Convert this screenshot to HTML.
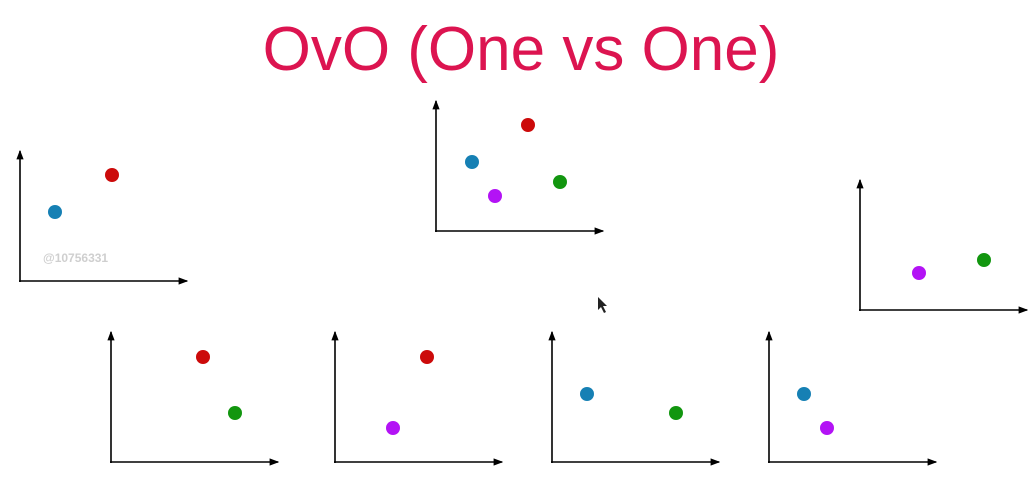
<!DOCTYPE html>
<html><head><meta charset="utf-8"><style>
html,body{margin:0;padding:0;background:#fff;width:1032px;height:490px;overflow:hidden;}
#title{position:absolute;left:5px;width:1032px;top:14px;text-align:center;font-family:"Liberation Sans",sans-serif;font-size:62px;color:#dc1450;line-height:72px;}
svg{position:absolute;left:0;top:0;}
</style></head><body>
<div id="title">OvO (One vs One)</div>
<svg id="chart" width="1032" height="490">
<defs><marker id="arr" viewBox="0 0 8 8" refX="7" refY="4" markerWidth="6" markerHeight="6" orient="auto"><path d="M0,1 L8,4 L0,7 z" fill="#000"/></marker></defs>
<text x="43" y="262" font-family="Liberation Sans, sans-serif" font-size="12" font-weight="bold" fill="#cfcfcf">@10756331</text>
<path d="M598,297 L598,310 L601,307 L604,313 L606,312 L603,306 L607,306 z" fill="#222"/>
</svg>
<script>
// class colors
const categories = ["blue","red","green","purple"];
const colors = {blue:"#1680b4",red:"#cc0a0a",green:"#12960f",purple:"#b313f5"};
// panel origins (axes corner) and axis lengths
const panelOrigins = [[20,281],[436,231],[860,310],[111,462],[335,462],[552,462],[769,462]];
const panelClasses = [["blue","red"],["blue","red","purple","green"],["purple","green"],["red","green"],["red","purple"],["blue","green"],["blue","purple"]];
// point values: offsets from origin (x right, y up)
const panelXValues = [[35,92],[36,92,59,124],[59,124],[92,124],[92,58],[35,124],[35,58]];
const panelYValues = [[69,106],[69,106,35,49],[37,50],[105,49],[105,34],[68,49],[68,34]];
const axisW=167, axisH=130;
const svg=document.getElementById('chart');
const NS="http://www.w3.org/2000/svg";
function xPos(p,v){return panelOrigins[p][0]+v;}
function yPos(p,v){return panelOrigins[p][1]-v;}
panelOrigins.forEach((o,p)=>{
  const g=document.createElementNS(NS,'g');
  
  
  const ya=document.createElementNS(NS,'line');
  ya.setAttribute('x1',o[0]);ya.setAttribute('y1',o[1]+1);ya.setAttribute('x2',o[0]);ya.setAttribute('y2',o[1]-axisH);
  ya.setAttribute('stroke','#000');ya.setAttribute('stroke-width','1.6');ya.setAttribute('marker-end','url(#arr)');
  
  
  g.appendChild(ya);
  const xa=document.createElementNS(NS,'line');
  xa.setAttribute('x1',o[0]-1);xa.setAttribute('y1',o[1]);xa.setAttribute('x2',Math.min(o[0]+axisW,1031));xa.setAttribute('y2',o[1]);
  xa.setAttribute('stroke','#000');xa.setAttribute('stroke-width','1.6');xa.setAttribute('marker-end','url(#arr)');
  
  
  g.appendChild(xa);
  panelClasses[p].forEach((c,i)=>{
    const ci=document.createElementNS(NS,'circle');
    ci.setAttribute('cx',xPos(p,panelXValues[p][i]));
    ci.setAttribute('cy',yPos(p,panelYValues[p][i]));
    ci.setAttribute('r',7);
    ci.setAttribute('fill',colors[c]);
    
    
    g.appendChild(ci);
  });
  svg.appendChild(g);
});
</script>
</body></html>
